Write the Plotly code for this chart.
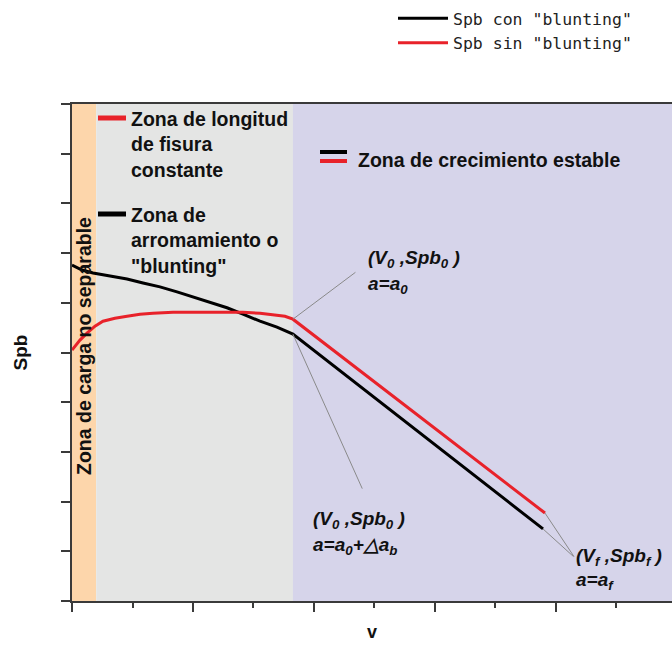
import plotly.graph_objects as go

# Spb vs v curves, with and without blunting
v_blunt = [0, 0.083, 0.174, 0.314, 0.455, 0.587, 0.727, 0.868, 1.0, 1.140, 1.281,
           1.413, 1.554, 1.694, 1.826, 3.893]
spb_blunt = [6.76, 6.66, 6.60, 6.54, 6.48, 6.40, 6.32, 6.22, 6.12, 6.02, 5.90,
             5.77, 5.63, 5.51, 5.37, 1.45]

v_sharp = [0, 0.066, 0.124, 0.190, 0.256, 0.355, 0.455, 0.562, 0.669, 0.835, 1.0,
           1.207, 1.413, 1.554, 1.694, 1.760, 1.826, 3.909]
spb_sharp = [5.05, 5.25, 5.39, 5.53, 5.63, 5.69, 5.73, 5.77, 5.79, 5.81, 5.81,
             5.81, 5.81, 5.79, 5.75, 5.73, 5.67, 1.77]

series_names = ['Spb con "blunting"', 'Spb sin "blunting"']

# shaded regions along v
zone_edges = [0, 0.2, 1.826, 4.96]
zone_colors = ["#FDD6AB", "#E4E5E4", "#D6D4EA"]

X_RANGE = [0, 4.959]
Y_RANGE = [0, 10]

W, H = 672, 650
M_L, M_R, M_T, M_B = 72, 0, 104, 49
PW, PH = W - M_L - M_R, H - M_T - M_B


def px(x, y):
    """Pixel position on the page -> paper coordinates."""
    return (x - M_L) / PW, (H - M_B - y) / PH


BOLD = "Liberation Sans"
AX = "#3a3a3a"
RED = "#E8222A"

fig = go.Figure()
fig.add_trace(go.Scatter(x=v_blunt, y=spb_blunt, mode="lines", name=series_names[0],
                         line=dict(color="#000000", width=3)))
fig.add_trace(go.Scatter(x=v_sharp, y=spb_sharp, mode="lines", name=series_names[1],
                         line=dict(color=RED, width=3)))

shapes = []
for i, c in enumerate(zone_colors):
    shapes.append(dict(type="rect", xref="x", yref="paper", x0=zone_edges[i], x1=zone_edges[i + 1],
                       y0=0, y1=1, fillcolor=c, line=dict(width=0), layer="below"))


def dash(x0, x1, y, color, w=5):
    a0, b0 = px(x0, y)
    a1, _ = px(x1, y)
    shapes.append(dict(type="line", xref="paper", yref="paper", x0=a0, x1=a1, y0=b0, y1=b0,
                       line=dict(color=color, width=w)))


dash(98, 126, 118, RED)
dash(98, 126, 214, "#000000")
dash(320, 347, 152, "#000000", 4)
dash(320, 347, 161, RED, 4)

annotations = []


def label(text, x, y, size=19.5, xanchor="left", yanchor="middle", angle=0, italic=False):
    a, b = px(x, y)
    t = f"<b><i>{text}</i></b>" if italic else f"<b>{text}</b>"
    annotations.append(dict(text=t, xref="paper", yref="paper", x=a, y=b, xanchor=xanchor,
                            yanchor=yanchor, showarrow=False, textangle=angle, align="left",
                            font=dict(family=BOLD, size=size, color="#111111")))


label("Zona de longitud<br>de fisura<br>constante", 129, 106, yanchor="top")
label("Zona de<br>arromamiento o<br>\"blunting\"", 129, 202, yanchor="top")
label("Zona de crecimiento estable", 356, 160)
label("Zona de carga no separable", 84, 346, xanchor="center", angle=-90)

label("(V<sub>0</sub> ,Spb<sub>0</sub> )", 366, 259, size=19, italic=True)
label("a=a<sub>0</sub>", 366, 285, size=19, italic=True)
label("(V<sub>0</sub> ,Spb<sub>0</sub> )", 311, 520, size=19, italic=True)
label("a=a<sub>0</sub>+\u25b3a<sub>b</sub>", 311, 546, size=19, italic=True)
label("(V<sub>f</sub> ,Spb<sub>f</sub> )", 574, 557, size=19, italic=True)
label("a=a<sub>f</sub>", 574, 581, size=19, italic=True)


def leader(x, y, ax, ay):
    annotations.append(dict(text="", xref="x", yref="y", x=x, y=y, ax=ax, ay=ay,
                            showarrow=True, arrowhead=0, arrowwidth=1, arrowcolor="#8a8a8a"))


# leader lines from the characteristic points to their labels
leader(v_sharp[-2], spb_sharp[-2], 64, -48)
leader(v_blunt[-2], spb_blunt[-2], 70, 156)
leader(v_sharp[-1], spb_sharp[-1], 30, 45)
leader(v_blunt[-1], spb_blunt[-1], 32, 29)

lx, ly = px(393, 1)

fig.update_layout(
    width=W, height=H,
    margin=dict(l=M_L, r=M_R, t=M_T, b=M_B),
    paper_bgcolor="white", plot_bgcolor="white",
    shapes=shapes, annotations=annotations,
    showlegend=True,
    legend=dict(x=lx, y=ly, xanchor="left", yanchor="top", bgcolor="rgba(0,0,0,0)",
                font=dict(family="DejaVu Sans Mono", size=16.5, color="#222222"),
                itemwidth=50),
    xaxis=dict(range=X_RANGE, showgrid=False, zeroline=False, showline=True, linecolor=AX,
               linewidth=2, mirror=True, ticks="outside", ticklen=9, tickwidth=2, tickcolor=AX,
               dtick=1, tick0=0, showticklabels=False,
               minor=dict(dtick=0.5, tick0=0, ticks="outside", ticklen=5, tickwidth=2, tickcolor=AX),
               title=dict(text="<b>v</b>", standoff=14, font=dict(family=BOLD, size=18, color="#111111"))),
    yaxis=dict(range=Y_RANGE, showgrid=False, zeroline=False, showline=True, linecolor=AX,
               linewidth=2, ticks="outside", ticklen=9, tickwidth=2, tickcolor=AX,
               dtick=1, tick0=0, showticklabels=False,
               title=dict(text="<b>Spb</b>", standoff=28, font=dict(family=BOLD, size=19, color="#111111"))),
)

fig.write_html("out.html")
